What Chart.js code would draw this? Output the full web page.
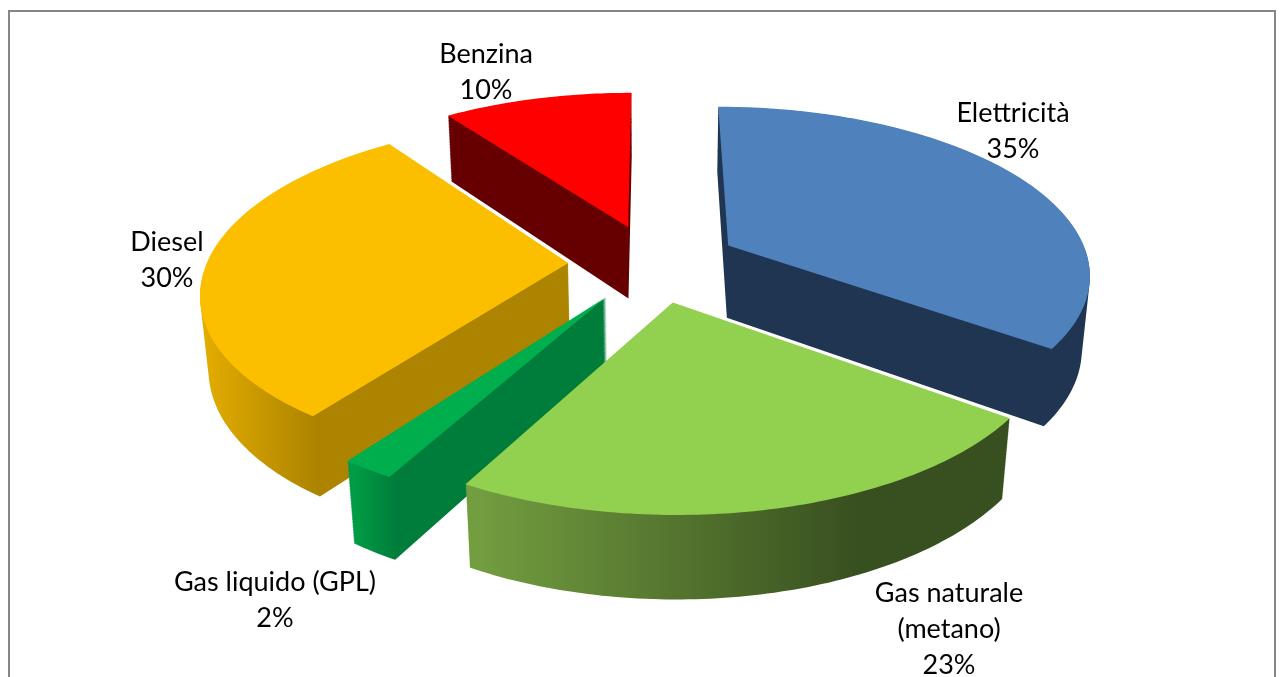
<!DOCTYPE html>
<html>
<head>
<meta charset="utf-8">
<style>html,body{margin:0;padding:0;background:#fff;overflow:hidden}canvas{display:block}</style>
<script src="https://cdn.jsdelivr.net/npm/chart.js@4/dist/chart.umd.min.js"></script>
</head>
<body>
<canvas id="c" width="1284" height="677"></canvas>
<script>
const categories = ["Elettricità", "Gas naturale (metano)", "Gas liquido (GPL)", "Diesel", "Benzina"];
const shares = [35, 23, 2, 30, 10];
const topColors = ["#4f81bd", "#92d050", "#00ae4d", "#fbbf00", "#ff0000"];

// camera for the 3-D look
const CAM = {cx: 653.5, cy: 263, f: 2060, D: 5.7, s: 0.458, c: 0.889, thick: 0.232};
const OFFSET = 217;
const paintOrder = [4, 0, 3, 2, 1];
const labelLines = [["Elettricità","35%"],["Gas naturale","(metano)","23%"],["Gas liquido (GPL)","2%"],["Diesel","30%"],["Benzina","10%"]];
const labelAnchors = [[1013,113],[949,593],[275,582],[167,242],[486,54]];
const LINE_H = 36;

function project(u, v, z) {
  const yc = v * CAM.s - z * CAM.c;
  const dc = CAM.D - v * CAM.c - z * CAM.s;
  return [CAM.cx + CAM.f * u / dc, CAM.cy + CAM.f * yc / dc];
}
function sideFill(ctx, i) {
  const grad = (x0, x1, a, b) => {
    const g = ctx.createLinearGradient(x0, 0, x1, 0);
    g.addColorStop(0, a); g.addColorStop(1, b);
    return g;
  };
  return [
    "#1f3551",
    grad(473, 860, "#739e40", "#384f1f"),
    grad(355, 396, "#009c45", "#007d3a"),
    grad(198, 316, "#e6ae00", "#ad8400"),
    "#660000"
  ][i];
}
// Canvas wrapper: the arc element draws itself through it, and every point goes through the camera.
// Chart.js inflates and narrows offset slices, so the wrapper keeps them on the true circle and angles.
function projectedCtx(ctx, arc, state) {
  const R = arc.outerRadius;
  const angDist = (a, b) => Math.abs(Math.atan2(Math.sin(a - b), Math.cos(a - b)));
  let tx = 0, ty = 0, first = true; const stack = [];
  const emit = (dx, dy) => {
    const p = project((dx + tx) / R, (dy + ty) / R, state.z);
    if (first) { ctx.moveTo(p[0], p[1]); first = false; } else ctx.lineTo(p[0], p[1]);
  };
  const point = (x, y) => {
    const dx = x - arc.x, dy = y - arc.y;
    if (Math.hypot(dx, dy) >= R * 0.99) {
      const a = Math.atan2(dy, dx);
      const t = angDist(a, arc.startAngle) < angDist(a, arc.endAngle) ? arc.startAngle : arc.endAngle;
      emit(R * Math.cos(t), R * Math.sin(t));
    } else emit(dx, dy);
  };
  const api = {
    save() { stack.push([tx, ty]); },
    restore() { [tx, ty] = stack.pop(); },
    translate(a, b) { tx += a; ty += b; },
    beginPath() { first = true; if (!state.merge) ctx.beginPath(); },
    fill() { if (!state.merge) ctx.fill(); },
    moveTo: point,
    lineTo: point,
    arc(x, y, r, a0, a1) {
      if (r <= 1) { emit(0, 0); return; }
      const s = arc.startAngle, e = arc.endAngle;
      const n = Math.max(2, Math.ceil((e - s) * 60));
      for (let i = 0; i <= n; i++) {
        const a = s + (e - s) * i / n;
        emit(R * Math.cos(a), R * Math.sin(a));
      }
    }
  };
  return new Proxy(ctx, {
    get(t, k) {
      if (k in api) return api[k];
      const v = t[k];
      return typeof v === "function" ? v.bind(t) : v;
    },
    set(t, k, v) {
      if (k === "fillStyle" && state.merge) return true;
      t[k] = v;
      return true;
    }
  });
}
const pie3d = {
  id: "pie3d",
  beforeDraw(chart) {
    const ctx = chart.ctx;
    ctx.save();
    ctx.strokeStyle = "#868686";
    ctx.lineWidth = 2;
    ctx.strokeRect(9, 11, 1266, 800);
    ctx.restore();
  },
  beforeDatasetsDraw(chart) {
    const ctx = chart.ctx;
    const arcs = chart.getDatasetMeta(0).data;
    const LAYERS = 110;
    paintOrder.forEach(i => {
      const arc = arcs[i];
      // side walls: all depth layers merged into one path, filled once
      ctx.save();
      ctx.beginPath();
      ctx.fillStyle = sideFill(ctx, i);
      for (let l = 0; l < LAYERS; l++) {
        arc.draw(projectedCtx(ctx, arc, {z: -CAM.thick * (1 - l / LAYERS), merge: true}));
      }
      ctx.fill("nonzero");
      ctx.restore();
      // top face
      arc.draw(projectedCtx(ctx, arc, {z: 0, merge: false}));
    });
    return false;
  },
  afterDraw(chart) {
    const ctx = chart.ctx;
    ctx.save();
    ctx.font = '27px Lato, "Open Sans", sans-serif';
    ctx.fillStyle = "#000";
    ctx.textAlign = "center";
    ctx.textBaseline = "middle";
    labelLines.forEach((lines, i) => {
      lines.forEach((t, j) => ctx.fillText(t, labelAnchors[i][0], labelAnchors[i][1] + j * LINE_H));
    });
    ctx.restore();
  }
};
new Chart(document.getElementById("c"), {
  type: "pie",
  plugins: [pie3d],
  data: {
    labels: categories,
    datasets: [{data: shares, backgroundColor: topColors, borderWidth: 0, offset: OFFSET}]
  },
  options: {
    responsive: false,
    animation: false,
    layout: {padding: 0},
    plugins: {legend: {display: false}, tooltip: {enabled: false}}
  }
});
</script>
</body>
</html>
